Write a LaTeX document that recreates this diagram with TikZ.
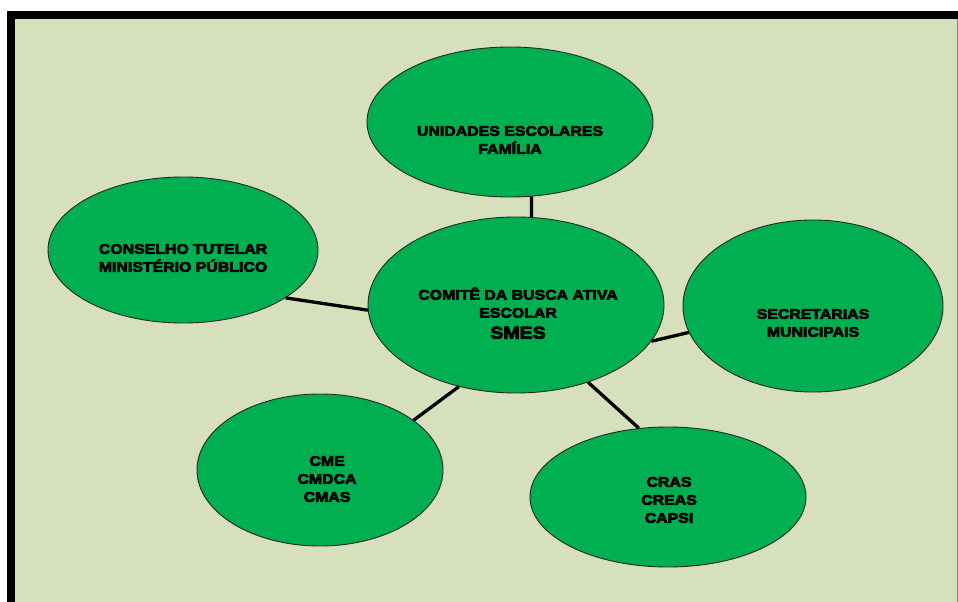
\documentclass[tikz,border=0pt]{standalone}
\usepackage{fontspec}
\newfontfamily\labfont[FakeStretch=1.15,FakeBold=5]{Liberation Sans Bold}
\definecolor{bgcol}{RGB}{214,224,188}
\definecolor{blobgreen}{RGB}{0,176,80}
\tikzset{
  blob/.style={ellipse, draw=black!85, line width=0.9bp, fill=blobgreen, inner sep=0pt},
  lab/.style={align=center, inner sep=0pt, font=\labfont\fontsize{13.8bp}{18bp}\selectfont, text=black},
  link/.style={line width=3.3bp, black}
}
\usetikzlibrary{shapes.geometric}
\begin{document}
\begin{tikzpicture}[x=1bp,y=-1bp]
\useasboundingbox (0,0) rectangle (958,602);
\fill[white] (0,0) rectangle (958,602);
\fill[black] (7,11) rectangle (958,602);
\fill[bgcol] (15,19) rectangle (956.5,602);
\fill[gray] (956.5,19) rectangle (958,602);
% ellipses
\node[blob, minimum width=286bp, minimum height=150bp] (top) at (510,122) {};
\node[blob, minimum width=270bp, minimum height=146bp] (left) at (183,250) {};
\node[blob, minimum width=296bp, minimum height=176bp] (ctr) at (516,305) {};
\node[blob, minimum width=260bp, minimum height=172bp] (right) at (813,306) {};
\node[blob, minimum width=246bp, minimum height=152bp] (bl) at (320,470) {};
\node[blob, minimum width=276bp, minimum height=140bp] (br) at (668,497) {};
% connectors
\draw[link] (top.286) -- (ctr.80);
\draw[link] (left.335.7) -- (ctr.182.7);
\draw[link] (ctr.345.9) -- (right.192.8);
\draw[link] (bl.28.8) -- (ctr.235);
\draw[link] (ctr.313.5) -- (br.113.2);
% labels
\node[lab] (ttop) at (510,140) {UNIDADES ESCOLARES\\FAMÍLIA};
\node[lab] (tleft) at (183,258) {CONSELHO TUTELAR\\MINISTÉRIO PÚBLICO};
\node[lab] (tctr) at (518,313) {COMITÊ DA BUSCA ATIVA\\ESCOLAR\\[3bp]{\fontsize{17bp}{20bp}\selectfont SMES}};
\node[lab] (tright) at (813,323) {SECRETARIAS\\MUNICIPAIS};
\node[lab] (tbl) at (327,479) {CME\\CMDCA\\CMAS};
\node[lab] (tbr) at (669,500) {CRAS\\CREAS\\CAPSI};
\end{tikzpicture}
\end{document}
